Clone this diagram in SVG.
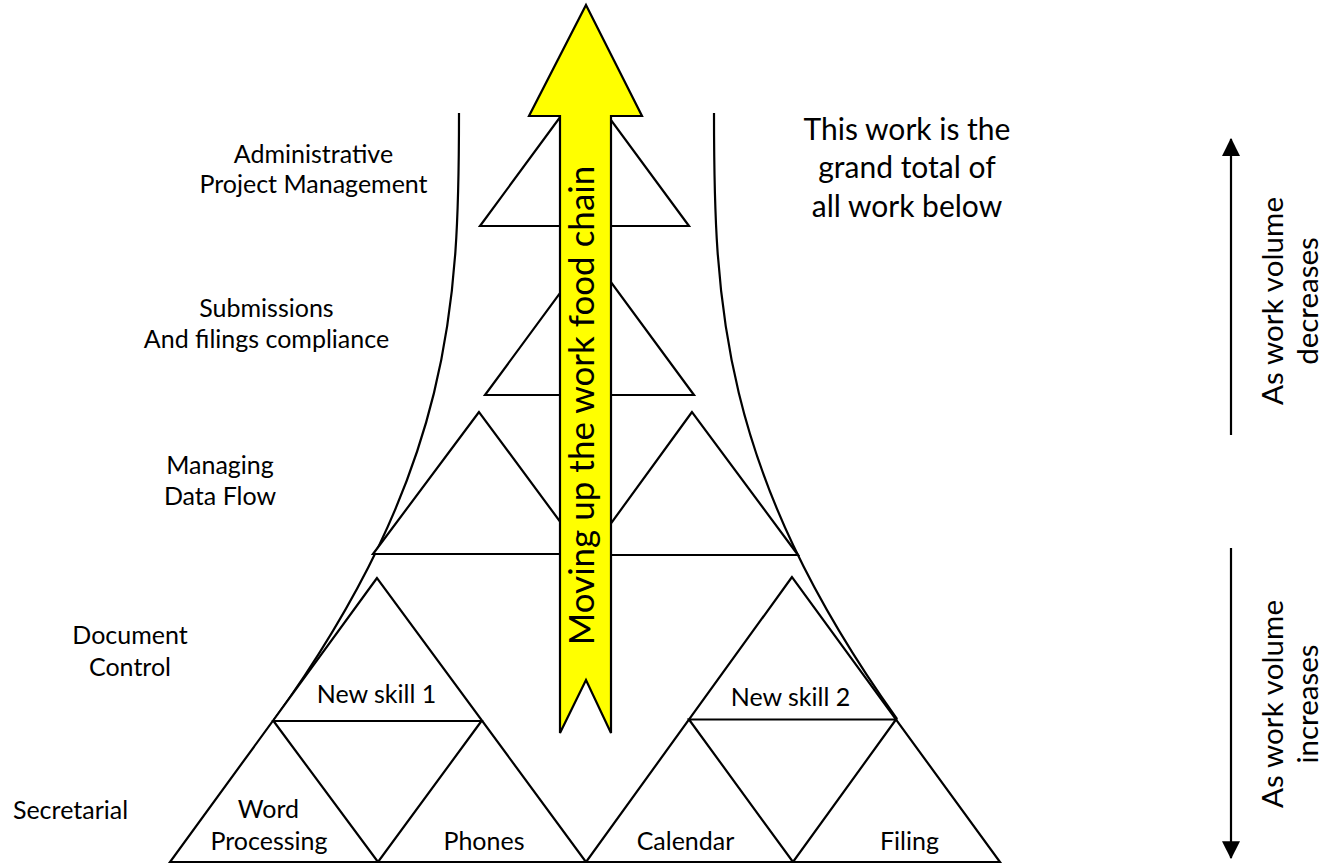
<svg xmlns="http://www.w3.org/2000/svg" width="1322" height="863" viewBox="0 0 1322 863">
<style>
.ln{fill:none;stroke:#000;stroke-width:2.2;stroke-linejoin:miter}
.tri{fill:#fff;stroke:#000;stroke-width:2.2;stroke-linejoin:miter}
.lb{font-family:Lato,"Open Sans","Liberation Sans",sans-serif;font-size:25px;fill:#000;text-anchor:middle}
.rt{font-family:Lato,"Open Sans","Liberation Sans",sans-serif;font-size:30px;fill:#000;text-anchor:middle}
.vt{font-family:Lato,"Open Sans","Liberation Sans",sans-serif;font-size:29.5px;fill:#000;text-anchor:middle}
.mv{font-family:Lato,"Open Sans","Liberation Sans",sans-serif;font-size:35px;fill:#000;text-anchor:middle}
</style>
<defs>
<marker id="ah" markerUnits="userSpaceOnUse" markerWidth="18" markerHeight="18" viewBox="0 0 16 16" refX="15" refY="8" orient="auto">
<path d="M0,0 L16,8 L0,16 Z" fill="#000"/>
</marker>
</defs>
<rect width="1322" height="863" fill="#fff"/>

<g id="tower-curves">
<path class="ln" d="M459,113 C459,300 454,470 274,720"/>
<path class="ln" d="M714,113 C714,300 719,470 897,719"/>
</g>

<g id="admin-triangle"><polygon class="tri" points="584.5,84 480,226 689,226"/></g>
<g id="submissions-triangle"><polygon class="tri" points="589.5,253 485,395 694,395"/></g>
<g id="dataflow-left-triangle"><polygon class="tri" points="479,412 373,554 584,554"/></g>
<g id="dataflow-right-triangle"><polygon class="tri" points="692,412 588,555 798,555"/></g>

<g id="left-group">
<polygon class="tri" points="377,578 170,862 586,862"/>
<polygon class="ln" points="273.5,721 481.5,721 378,862"/>
</g>
<g id="right-group">
<polygon class="tri" points="792,577 586,862 1000,862"/>
<polygon class="ln" points="689,719.5 896,719.5 793,862"/>
</g>

<g id="food-chain-arrow">
<polygon points="586,5 642,116 611,116 611,733 586,680 560,733 560,116 529,116" fill="#FFFF00" stroke="#000" stroke-width="2.2"/>
<text class="mv" transform="translate(594,405.5) rotate(-90)" x="0" y="0">Moving up the work food chain</text>
</g>

<g id="connectors">
<line class="ln" x1="1231" y1="435" x2="1231" y2="139" marker-end="url(#ah)"/>
<line class="ln" x1="1231" y1="548" x2="1231" y2="858" marker-end="url(#ah)"/>
</g>

<g id="labels">
<text class="lb" x="313.5" y="163">Administrative</text>
<text class="lb" x="313.5" y="193">Project Management</text>
<text class="lb" x="266.5" y="317">Submissions</text>
<text class="lb" x="266.5" y="348">And filings compliance</text>
<text class="lb" x="220" y="474">Managing</text>
<text class="lb" x="220" y="505">Data Flow</text>
<text class="lb" x="130" y="644">Document</text>
<text class="lb" x="130" y="676">Control</text>
<text class="lb" x="70.5" y="819">Secretarial</text>
</g>

<g id="skill-labels">
<text class="lb" x="376.5" y="703">New skill 1</text>
<text class="lb" x="790.5" y="706">New skill 2</text>
<text class="lb" x="268.5" y="818">Word</text>
<text class="lb" x="269" y="850">Processing</text>
<text class="lb" x="484" y="850">Phones</text>
<text class="lb" x="685.5" y="850">Calendar</text>
<text class="lb" x="909.5" y="850">Filing</text>
</g>

<g id="grand-total-note">
<text class="rt" x="907" y="140">This work is the</text>
<text class="rt" x="907" y="178">grand total of</text>
<text class="rt" x="907" y="217">all work below</text>
</g>

<g id="volume-decreases">
<text class="vt" transform="translate(1283,301) rotate(-90)" textLength="208">As work volume</text>
<text class="vt" transform="translate(1318,301) rotate(-90)">decreases</text>
</g>
<g id="volume-increases">
<text class="vt" transform="translate(1283,704) rotate(-90)" textLength="208">As work volume</text>
<text class="vt" transform="translate(1318,704) rotate(-90)">increases</text>
</g>
</svg>
